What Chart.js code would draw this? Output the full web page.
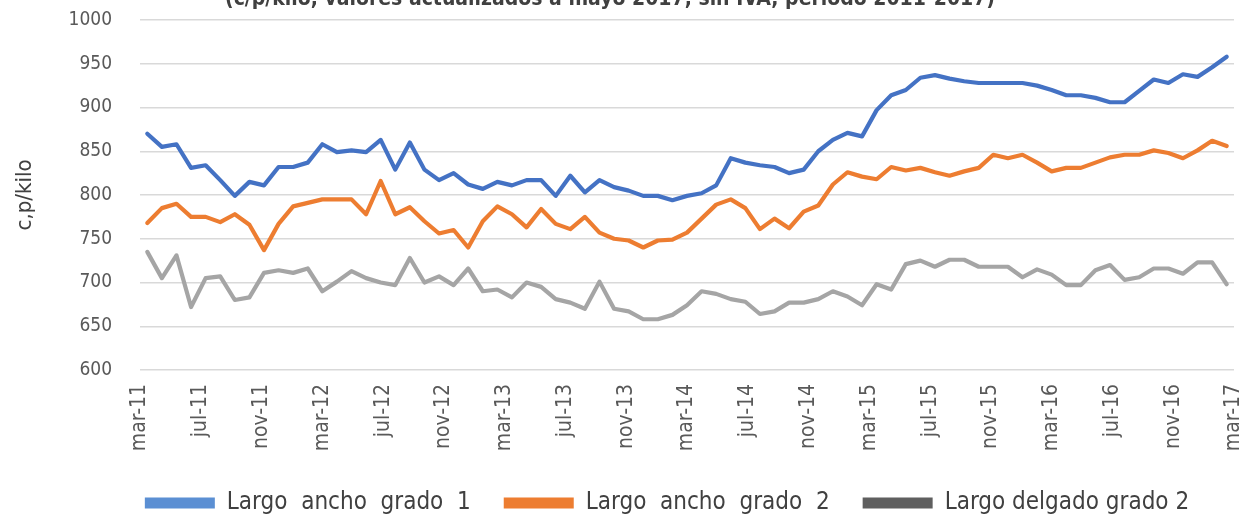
<!DOCTYPE html>
<html>
<head>
<meta charset="utf-8">
<script src="https://cdn.jsdelivr.net/npm/chart.js@4.4.1/dist/chart.umd.min.js"></script>
<style>
  html, body { margin: 0; padding: 0; background: #ffffff; }
  #wrap { width: 1243px; height: 522px; }
</style>
</head>
<body>
<div id="wrap"><canvas id="chart" width="1243" height="522"></canvas></div>
<script>
// monthly series, mar-11 .. may-17 (c/p/kilo)
const monthNames = ['ene', 'feb', 'mar', 'abr', 'may', 'jun', 'jul', 'ago', 'sep', 'oct', 'nov', 'dic'];
const months = [];
for (let k = 2; k <= 2 + 74; k++) {
  months.push(monthNames[k % 12] + '-' + (11 + Math.floor(k / 12)));
}
// axis labels as printed under the chart
const tickLabels = [
  'mar-11', 'jul-11', 'nov-11', 'mar-12', 'jul-12', 'nov-12', 'mar-13', 'jul-13', 'nov-13', 'mar-14',
  'jul-14', 'nov-14', 'mar-15', 'jul-15', 'nov-15', 'mar-16', 'jul-16', 'nov-16', 'mar-17'
];

const anchoGrado1 = [
  870, 855, 858, 831, 834, 817, 799, 815, 811, 832, 832, 837, 858, 849, 851, 849,
  863, 829, 860, 829, 817, 825, 812, 807, 815, 811, 817, 817, 799, 822, 803, 817,
  809, 805, 799, 799, 794, 799, 802, 811, 842, 837, 834, 832, 825, 829, 850, 863,
  871, 867, 897, 914, 920, 934, 937, 933, 930, 928, 928, 928, 928, 925, 920, 914,
  914, 911, 906, 906, 919, 932, 928, 938, 935, 946, 958
];
const anchoGrado2 = [
  768, 785, 790, 775, 775, 769, 778, 766, 737, 767, 787, 791, 795, 795, 795, 778,
  816, 778, 786, 770, 756, 760, 740, 770, 787, 778, 763, 784, 767, 761, 775, 757,
  750, 748, 740, 748, 749, 757, 773, 789, 795, 785, 761, 773, 762, 781, 788, 812,
  826, 821, 818, 832, 828, 831, 826, 822, 827, 831, 846, 842, 846, 837, 827, 831,
  831, 837, 843, 846, 846, 851, 848, 842, 851, 862, 856
];
const delgadoGrado2 = [
  735, 705, 731, 672, 705, 707, 680, 683, 711, 714, 711, 716, 690, 701, 713, 705,
  700, 697, 728, 700, 707, 697, 716, 690, 692, 683, 700, 695, 681, 677, 670, 701,
  670, 667, 658, 658, 663, 674, 690, 687, 681, 678, 664, 667, 677, 677, 681, 690,
  684, 674, 698, 692, 721, 725, 718, 726, 726, 718, 718, 718, 706, 715, 709, 697,
  697, 714, 720, 703, 706, 716, 716, 710, 723, 723, 698
];
const seriesNames = ['Largo  ancho  grado  1', 'Largo  ancho  grado  2', 'Largo delgado grado 2'];
const yTicks = [600, 650, 700, 750, 800, 850, 900, 950, 1000];

const FONT = "'Liberation Sans Narrow', 'DejaVu Sans Condensed', 'Liberation Sans', sans-serif";

const topTitle = {
  id: 'topTitle',
  afterDraw(chart) {
    const ctx = chart.ctx;
    ctx.save();
    ctx.font = 'bold 21px ' + FONT;
    ctx.fillStyle = '#404040';
    ctx.textAlign = 'center';
    ctx.textBaseline = 'alphabetic';
    ctx.fillText('(c/p/kilo, valores actualizados a mayo 2017, sin IVA, período 2011-2017)', 610, 5);
    ctx.restore();
  }
};

// nudge the legend row to where the original has it
const legendShift = {
  id: 'legendShift',
  afterLayout(chart) {
    const l = chart.legend;
    l.left += 50; l.right += 50;
    l.top += 3; l.bottom += 3;
  }
};

const ctx = document.getElementById('chart').getContext('2d');
const chart = new Chart(ctx, {
  type: 'line',
  data: {
    labels: months,
    datasets: [
      { label: seriesNames[0], data: anchoGrado1, borderColor: '#4472C4', backgroundColor: '#5B8FD3' },
      { label: seriesNames[1], data: anchoGrado2, borderColor: '#ED7D31', backgroundColor: '#ED7D31' },
      { label: seriesNames[2], data: delgadoGrado2, borderColor: '#A5A5A5', backgroundColor: '#5F5F5F' }
    ]
  },
  options: {
    responsive: false,
    animation: false,
    devicePixelRatio: 1,
    elements: {
      line: { borderWidth: 4.2, tension: 0, borderJoinStyle: 'round', borderCapStyle: 'round' },
      point: { radius: 0 }
    },
    layout: { padding: { top: 20, left: 0, right: 9, bottom: 0 } },
    scales: {
      x: {
        display: false,
        offset: true
      },
      xLabels: {
        type: 'category',
        labels: tickLabels,
        position: 'bottom',
        offset: false,
        grid: { display: false, drawTicks: false, tickLength: 0 },
        border: { display: false },
        ticks: {
          autoSkip: false,
          maxRotation: 90,
          minRotation: 90,
          padding: 14,
          color: '#595959',
          font: { family: FONT, size: 21 }
        },
        afterFit: function (s) { s.height = 85; s.paddingLeft = 0; s.paddingRight = 0; }
      },
      y: {
        min: 600,
        max: 1000,
        afterBuildTicks: function (s) { s.ticks = yTicks.map(v => ({ value: v })); },
        grid: { color: '#D9D9D9', lineWidth: 1.5, drawTicks: false },
        border: { display: false },
        ticks: {
          padding: 28,
          color: '#595959',
          font: { family: FONT, size: 19 },
          callback: function (v) { return String(v); }
        },
        title: {
          display: true,
          text: 'c,p/kilo',
          color: '#404040',
          font: { family: FONT, size: 22 },
          padding: { top: 12, bottom: 0 }
        },
        afterFit: function (s) { s.width = 140; s.paddingTop = 0; s.paddingBottom = 0; }
      }
    },
    plugins: {
      title: { display: false },
      tooltip: { enabled: false },
      legend: {
        position: 'bottom',
        labels: {
          boxWidth: 70,
          boxHeight: 11,
          padding: 33,
          color: '#404040',
          font: { family: FONT, size: 24 },
          generateLabels: function (chart) {
            return chart.data.datasets.map((ds, i) => ({
              text: ds.label,
              fillStyle: ds.backgroundColor,
              strokeStyle: ds.backgroundColor,
              lineWidth: 0,
              hidden: false,
              datasetIndex: i,
              fontColor: '#404040'
            }));
          }
        }
      }
    }
  },
  plugins: [topTitle, legendShift]
});
</script>
</body>
</html>
